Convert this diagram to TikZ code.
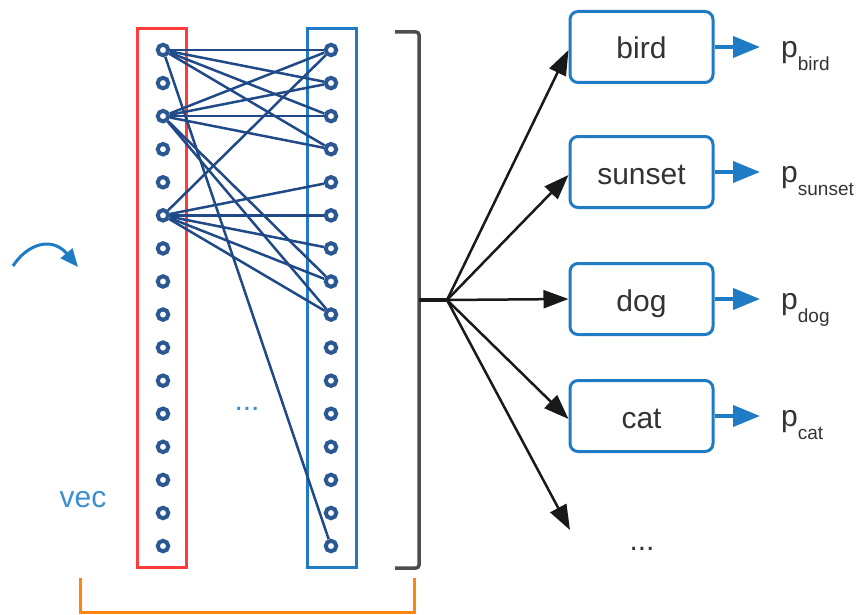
\documentclass[tikz,border=0pt]{standalone}
\usepackage{fontspec}
\setmainfont{Liberation Sans}
\usetikzlibrary{arrows.meta}
\definecolor{neuroncol}{HTML}{2B5793}
\definecolor{wirecol}{HTML}{1F4A87}
\definecolor{boxblue}{HTML}{1F7BC4}
\definecolor{redbar}{HTML}{FF3B3B}
\definecolor{orangebar}{HTML}{FF8410}
\definecolor{textgray}{HTML}{333333}
\definecolor{bracketgray}{HTML}{4D4D4D}
\definecolor{labelblue}{HTML}{3A8FD0}
\newcommand{\bigfont}{\fontsize{30}{30}\selectfont}
\newcommand{\subfont}{\fontsize{19}{19}\selectfont}
\newcommand{\plabel}[1]{p\raisebox{-13pt}{\subfont #1}}
\begin{document}
\begin{tikzpicture}[x=1pt,y=-1pt,
  neuron/.style={circle,draw=neuroncol,fill=white,line width=4pt,minimum size=10.5pt,inner sep=0pt},
  wire/.style={draw=wirecol,line width=2.5pt},
  layerbox/.style={line width=3pt,minimum width=49pt,minimum height=538pt,inner sep=0pt},
  classbox/.style={draw=boxblue,line width=3pt,rounded corners=8pt,minimum width=143pt,minimum height=71pt,
    inner sep=0pt,text height=24pt,text depth=0pt,font=\bigfont,text=textgray},
  fanarrow/.style={draw=black!90,line width=2.5pt,-{Triangle[length=25pt,width=18pt]}},
  probarrow/.style={draw=boxblue,line width=4pt,-{Triangle[length=27pt,width=21pt]}},
  plab/.style={anchor=base west,font=\bigfont,text=textgray,inner sep=0pt},
  bigtext/.style={anchor=base,font=\bigfont,inner sep=0pt}]
\useasboundingbox (0,0) rectangle (861,615);

% layer frames
\node[layerbox,draw=redbar] (inframe) at (161.5,298) {};
\node[layerbox,draw=boxblue] (outframe) at (331.5,298) {};

% neurons of both layers
\foreach \i in {1,...,16}{
  \node[neuron] (L\i) at (163,{50+33.07*(\i-1)}) {};
  \node[neuron] (R\i) at (331,{50+33.07*(\i-1)}) {};
}

% connections
\foreach \a/\b in {1/1,1/2,1/3,1/4,1/16,
                   3/1,3/2,3/3,3/4,3/8,3/9,
                   6/1,6/5,6/6,6/7,6/8,6/9}{
  \draw[wire] (L\a) -- (R\b);
}

% incoming arrow and label
\coordinate (cin) at (13,266);
\coordinate (cout) at (78,267);
\draw[draw=boxblue,line width=3pt,-{Triangle[length=18pt,width=15pt]}]
  (cin) .. controls (27,244) and (52,236) .. (cout);
\node[bigtext,text=labelblue] (veclab) at (83,507) {vec};
\node[bigtext,text=labelblue] (middots) at (247,410) {...};

% grouping brackets
\draw[bracketgray,line width=3.5pt,rounded corners=3pt] (395,32) -- (419,32) -- (419,568) -- (395,568);
\coordinate (brmid) at (419,300);
\coordinate (fan) at (447,300);
\draw[black!90,line width=3.5pt] (brmid) -- (fan);
\draw[orangebar,line width=3pt] (80,578) -- (80,612) -- (414,612) -- (414,578);

% class boxes
\node[classbox] (bird) at (641.5,47) {bird};
\node[classbox] (sunset) at (641.5,172) {sunset};
\node[classbox] (dog) at (641.5,299) {dog};
\node[classbox] (cat) at (641.5,416) {cat};
\coordinate (more) at (570,530);
\node[bigtext,text=textgray] (moredots) at (642,550) {...};

\draw[fanarrow] (fan) -- ([yshift=-3pt]bird.west);
\draw[fanarrow] (fan) -- ([yshift=-3pt]sunset.west);
\draw[fanarrow] (fan) -- (dog.west);
\draw[fanarrow] (fan) -- ([yshift=-3pt]cat.west);
\draw[fanarrow] (fan) -- (more);

% probabilities
\foreach \n/\y/\t in {bird/47/bird,sunset/172/sunset,dog/299/dog,cat/416/cat}{
  \coordinate (\n tip) at (760,\y);
  \draw[probarrow] (\n.east) -- (\n tip);
  \node[plab] (p\n) at (781,\y+10.5) {\plabel{\t}};
}
\end{tikzpicture}
\end{document}
